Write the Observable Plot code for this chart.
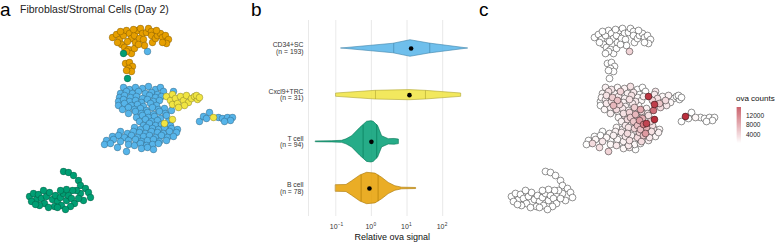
<!DOCTYPE html>
<html><head><meta charset="utf-8">
<script src="https://cdn.jsdelivr.net/npm/d3@7"></script>
<script src="https://cdn.jsdelivr.net/npm/@observablehq/plot@0.6"></script>
<style>
body{margin:0;background:#fff;font-family:"Liberation Sans",Arial,Helvetica,sans-serif;}
#wrap{position:relative;width:778px;height:243px;overflow:hidden;background:#fff;}
.abs{position:absolute;}
</style></head><body>
<div id="wrap"></div>
<script>
// ---------- Data ----------
const categories = ["CD34+SC", "Cxcl9+TRC", "T cell", "B cell"];
const cellCounts = [193, 31, 94, 78];
const catColors = ["#56B4E9", "#F0E442", "#009E73", "#E69F00"];
const catPos = [4, 3, 2, 1];

// UMAP embedding [UMAP1, UMAP2, ova counts]
const cd34Cells = [
  [-0.7,3.8,1000],[-0.1,3.6,1500],[0.5,3.8,500],[1.2,3.7,1000],[1.8,3.9,2000],[2.5,3.6,0],[3.0,3.8,0],
  [-1.0,3.2,500],[-0.4,3.4,2000],[0.2,3.2,1000],[0.8,3.4,3000],[1.5,3.2,1000],[2.1,3.3,1500],[2.7,3.1,0],[3.3,3.4,0],
  [-1.1,2.8,500],[-0.6,3.0,2000],[0.0,2.8,3500],[0.6,2.9,1500],[1.2,2.7,1000],[1.9,3.0,2000],[2.5,2.8,500],[3.1,2.9,1000],
  [-1.2,2.4,0],[-0.7,2.6,1000],[-0.1,2.4,2000],[0.5,2.5,4500],[1.1,2.3,1000],[1.7,2.6,2000],[2.3,2.4,1500],[2.9,2.5,500],
  [-1.2,2.0,0],[-0.6,2.2,1500],[0.1,2.0,5000],[0.7,2.1,3000],[1.3,1.9,1000],[2.0,2.2,1500],[2.6,2.0,500],
  [-0.8,1.6,500],[-0.2,1.8,1000],[0.4,1.6,2500],[1.0,1.7,1500],[1.6,1.5,1000],[2.2,1.8,3500],[2.8,1.6,6000],[3.4,1.7,1000],
  [-0.2,1.2,1000],[0.5,1.4,500],[1.1,1.2,2000],[1.7,1.3,3000],[2.3,1.1,5000],[2.9,1.4,2500],[3.5,1.2,1500],
  [0.6,0.8,500],[1.2,1.0,1500],[1.8,0.8,3500],[2.4,0.9,2000],[3.0,0.7,5500],[3.6,1.0,2000],
  [0.9,0.4,1000],[1.5,0.6,2500],[2.1,0.4,4000],[2.7,0.5,7000],[3.8,0.4,3000],
  [1.3,0.0,1500],[1.9,0.2,1000],[2.5,0.0,4500],[3.1,0.1,9000],[4.0,0.0,2000],
  [0.4,-0.2,500],[1.0,-0.4,1000],[1.6,-0.2,2000],[2.2,-0.3,3000],[2.8,-0.4,4500],[3.4,-0.2,5500],[4.1,-0.3,1500],[4.7,-0.4,500],
  [-1.0,-0.6,0],[-0.3,-0.8,500],[0.3,-0.6,1000],[0.9,-0.7,1500],[1.5,-0.8,2500],[2.1,-0.6,1000],[2.7,-0.7,3000],[3.3,-0.8,7000],[3.9,-0.6,2000],[4.6,-0.7,1000],
  [-1.8,-1.1,0],[-1.2,-1.0,0],[-0.6,-1.2,500],[0.1,-1.0,1000],[0.7,-1.2,500],[1.3,-1.1,1500],[1.9,-1.0,1000],[2.5,-1.2,2500],[3.1,-1.0,4000],[3.7,-1.2,1500],[4.3,-1.1,500],
  [-2.4,-1.5,0],[-1.7,-1.4,500],[-1.0,-1.6,1500],[-0.2,-1.5,0],[0.5,-1.4,500],[1.1,-1.6,1000],[1.7,-1.5,2000],[2.3,-1.4,500],[2.9,-1.6,2500],[3.6,-1.5,1000],
  [-2.6,-1.9,0],[-2.0,-1.8,2500],[-0.2,-1.9,500],[0.4,-2.0,1500],[1.0,-1.8,0],[1.6,-2.0,1500],[2.2,-1.9,500],[2.8,-1.8,500],
  [-1.3,-2.2,2000],[1.1,-2.3,500],[1.7,-2.2,1000],[2.3,-2.4,0],[-0.4,-2.6,3000],
  [4.1,1.5,10000],[4.3,3.4,1500],[1.7,7.4,3000],
  [6.9,0.4,0],[7.3,0.9,14500],[7.6,0.7,0],[7.9,1.3,0],[8.8,0.8,0],[9.2,0.7,0],[9.7,0.8,0],[10.2,0.8,0],[10.0,0.5,0],[9.4,0.4,0]
];
const cxcl9Cells = [
  [3.6,2.9,14000],[4.0,2.5,3000],[4.2,2.1,13500],[4.2,3.1,1500],[4.5,2.7,2000],[4.7,2.2,4000],[5.0,2.9,500],
  [5.3,2.5,2500],[5.6,3.0,1000],[5.8,2.3,500],[6.1,2.7,0],[6.4,2.9,0],[6.7,2.6,0],[6.6,3.0,0],[6.9,2.8,0],
  [5.4,2.0,1500],[4.8,1.8,2500],[4.2,0.6,14500],[3.4,0.2,13000],[8.3,0.8,500]
];
const bCells = [
  [-1.8,8.8,0],[-1.4,9.1,0],[-1.1,8.6,0],[-0.9,8.1,0],[-1.3,8.3,0],[-0.7,9.0,0],[-0.4,9.5,0],[-0.1,9.2,0],
  [0.1,8.7,0],[-0.3,8.4,0],[-0.6,7.8,0],[-0.2,7.6,0],[0.1,7.2,0],[0.4,7.7,0],[0.5,8.3,0],[0.4,9.0,0],
  [0.7,9.5,0],[1.0,9.7,0],[1.2,9.2,0],[0.9,8.7,0],[1.3,8.6,0],[1.6,9.3,0],[1.8,9.7,0],[2.1,9.4,0],
  [2.1,9.0,0],[2.2,8.3,0],[2.5,8.7,0],[2.7,9.0,0],[3.0,9.2,0],[3.2,8.8,0],[3.5,9.0,0],[3.8,8.6,0],
  [3.6,8.2,0],[3.2,8.3,0],[1.4,8.0,0],[0.8,8.1,0],[2.6,9.5,0],[-0.4,7.4,0],[0.3,9.6,0],[-1.0,9.4,0],
  [-0.5,6.2,0],[-0.1,6.3,0],[0.2,5.9,0],[-0.2,5.7,0],[0.1,5.4,0],[-0.4,5.5,0]
];
const tCells = [
  [-6.7,-4.6,0],[-6.2,-4.7,0],[-5.7,-5.0,0],[-5.2,-5.5,0],[-5.0,-6.0,0],[-4.5,-6.3,0],[-4.2,-6.7,0],[-4.0,-7.2,0],
  [-4.7,-7.5,0],[-5.0,-6.8,0],[-5.4,-6.5,0],[-5.8,-6.5,0],
  [-10.1,-7.1,0],[-9.7,-6.8,0],[-9.4,-7.4,0],[-9.9,-7.6,0],[-9.2,-6.9,0],[-8.9,-7.3,0],[-8.6,-7.8,0],[-9.1,-8.0,0],
  [-8.4,-7.1,0],[-8.1,-6.7,0],[-7.8,-7.4,0],[-7.5,-7.0,0],[-7.3,-7.6,0],[-7.0,-7.2,0],[-6.7,-6.8,0],[-6.9,-8.0,0],
  [-7.6,-8.1,0],[-8.2,-8.2,0],[-6.4,-7.5,0],[-6.2,-7.0,0],[-5.9,-7.3,0],[-5.6,-7.8,0],[-6.0,-8.1,0],[-5.2,-7.3,0],
  [-6.4,-6.4,0],[-7.0,-6.5,0],[-7.3,-8.2,0],[-6.5,-8.4,0],[-9.5,-7.9,0],[-8.7,-6.5,0],
  [-0.7,7.2,0],[-0.3,4.7,0]
];

// Violin density profiles: [relative ova signal, relative density]
const violinCD34 = [[0.144,0],[4.15,0.23],[12.5,0.40],[42.6,0.24],[520,0]];
const violinCxcl9 = [[0.104,0.08],[1.3,0.21],[11.7,0.245],[32.9,0.21],[331,0.08]];
const violinT = [[0.028,0.02],[0.08,0.03],[0.15,0.05],[0.2,0.12],[0.287,0.27],[0.491,0.68],[0.757,0.97],[1.0,1.0],[1.16,0.97],[1.54,0.76],[2.0,0.27],[3.06,0.13],[4.5,0.14],[5.9,0.11]];
const violinB = [[0.102,0.16],[0.2,0.17],[0.287,0.35],[0.49,0.63],[0.757,0.76],[1.3,0.72],[2.0,0.52],[3.06,0.27],[4.7,0.11],[7.3,0.04],[18,0.025]];
const q25 = [4.23, 1.3, 0.585, 0.514];
const medians = [13.0, 11.7, 1.0, 0.88];
const q75 = [43.4, 32.9, 1.41, 1.54];

const xTicks = [0.1, 1, 10, 100];
const xTickExponents = ["\u22121", "0", "1", "2"];
const countTicks = [4000, 8000, 12000];

// ---------- Build ----------
const FONT = '"Liberation Sans", Arial, Helvetica, sans-serif';
const wrap = document.getElementById("wrap");
function place(node, left, top) {
  const d = document.createElement("div");
  d.className = "abs"; d.style.left = left + "px"; d.style.top = top + "px";
  d.appendChild(node); wrap.appendChild(d); return d;
}
function label(text, left, top, css) {
  const d = document.createElement("div");
  d.className = "abs"; d.style.left = left + "px"; d.style.top = top + "px";
  d.style.whiteSpace = "nowrap";
  Object.assign(d.style, css || {});
  d.textContent = text; wrap.appendChild(d); return d;
}

const toRows = (arr, cat) => arr.map(([u1, u2, count]) => ({u1, u2, count, cat}));
const cellsA = [
  ...toRows(cd34Cells, categories[0]),
  ...toRows(cxcl9Cells, categories[1]),
  ...toRows(bCells, categories[3]),
  ...toRows(tCells, categories[2])
];

const umapX = {domain: [-13, 13], axis: null};
const umapY = {domain: [-11.8, 12.5], axis: null};

// Panel a
const plotA = Plot.plot({
  width: 260, height: 243, margin: 0,
  x: umapX, y: umapY,
  color: {domain: categories, range: catColors},
  style: {background: "transparent", overflow: "visible"},
  marks: [
    Plot.dot(cellsA, {x: "u1", y: "u2", r: 3.4, fill: "cat", stroke: "#000", strokeOpacity: 0.35, strokeWidth: 0.6})
  ]
});
place(plotA, 0, 0);

// Panel c
const cellsC = cellsA.slice().sort((a, b) => a.count - b.count);
const countColor = {type: "linear", domain: [0, 15600], range: ["#ffffff", "#b51f2e"]};
const plotC = Plot.plot({
  width: 260, height: 243, margin: 0,
  x: umapX, y: umapY,
  color: countColor,
  style: {background: "transparent", overflow: "visible"},
  marks: [
    Plot.dot(cellsC, {x: "u1", y: "u2", r: 3.4, fill: "count", stroke: "#000", strokeOpacity: 0.85, strokeWidth: 0.5})
  ]
});
place(plotC, 482, 0);

// Legend for c
const legendStops = d3.range(0, 15600, 150);
const plotLegend = Plot.plot({
  width: 45, height: 60, margin: 0,
  x: {domain: [0, 1], range: [3.7, 8.0], axis: null},
  y: {domain: [0, 15600], range: [55.3, 19], axis: null},
  color: countColor,
  style: {background: "transparent", overflow: "visible", fontFamily: FONT},
  marks: [
    Plot.rect(legendStops, {x1: 0, x2: 1, y1: d => d, y2: d => Math.min(d + 150, 15600), fill: d => d}),
    Plot.text(countTicks, {x: 1, y: d => d, text: d => String(d), dx: 4.5, textAnchor: "start", fontSize: 6.5, fill: "#222"})
  ]
});
place(plotLegend, 733, 88);
label("ova counts", 736, 94.5, {fontSize: "8px", lineHeight: "8px", color: "#111"});

// Panel b (violins)
const K = 0.443;
function densityAt(profile, v) {
  const lv = Math.log10(v);
  for (let i = 0; i < profile.length - 1; i++) {
    const a = Math.log10(profile[i][0]), b = Math.log10(profile[i + 1][0]);
    if (lv >= a && lv <= b) {
      const t = (lv - a) / (b - a);
      return profile[i][1] + t * (profile[i + 1][1] - profile[i][1]);
    }
  }
  return 0;
}
const profiles = [violinCD34, violinCxcl9, violinT, violinB];
const xMin = Math.pow(10, -1.766), xMax = Math.pow(10, 2.93);
const violinMarks = [];
categories.forEach((cat, i) => {
  const rows = profiles[i].map(([v, d]) => ({v, d, pos: catPos[i]}));
  const dark = d3.color(catColors[i]).darker(0.9).formatHex();
  violinMarks.push(Plot.areaY(rows, {
    x: "v", y1: r => r.pos - K * r.d, y2: r => r.pos + K * r.d,
    fill: catColors[i], fillOpacity: 0.85, stroke: dark, strokeWidth: 0.6
  }));
  const qs = [q25[i], q75[i]].map(v => ({v, pos: catPos[i], d: densityAt(profiles[i], v)}));
  violinMarks.push(Plot.ruleX(qs, {x: "v", y1: r => r.pos - K * r.d, y2: r => r.pos + K * r.d, stroke: dark, strokeWidth: 0.6}));
});
const medRows = medians.map((v, i) => ({v, pos: catPos[i]}));

const plotB = Plot.plot({
  width: 230, height: 243, marginLeft: 60, marginRight: 2.7, marginTop: 20, marginBottom: 27,
  x: {type: "log", domain: [xMin, xMax], axis: null},
  y: {domain: [0.4, 4.6]},
  style: {background: "transparent", overflow: "visible", fontFamily: FONT, fontSize: "7px"},
  marks: [
    Plot.gridX({ticks: xTicks, stroke: "#e3e3e3", strokeOpacity: 1, strokeWidth: 0.8}),
    Plot.ruleX([xMin], {stroke: "#e3e3e3", strokeWidth: 0.8}),
    ...violinMarks,
    Plot.dot(medRows, {x: "v", y: "pos", r: 2.3, fill: "#000"}),
    Plot.text(xTicks, {x: d => d, frameAnchor: "bottom", text: () => "10", textAnchor: "end", dx: 1.8, dy: 12, fontSize: 7, fill: "#333"}),
    Plot.text(xTicks, {x: d => d, frameAnchor: "bottom", text: (d, i) => xTickExponents[i], textAnchor: "start", dx: 2.0, dy: 9.3, fontSize: 4.8, fill: "#333"}),
    Plot.axisY({ticks: catPos, tickFormat: d => { const i = catPos.indexOf(d); return categories[i] + "\n(n = " + cellCounts[i] + ")"; },
      tickSize: 0, tickPadding: 5, fontSize: 6.8, lineHeight: 0.9, fill: "#333", label: null}),
    Plot.text(["Relative ova signal"], {frameAnchor: "bottom", dy: 23, fontSize: 9, fill: "#111"})
  ]
});
place(plotB, 248, 0);

// Panel letters and title
label("a", 0, 0, {fontSize: "19px", lineHeight: "19px"});
label("b", 251, 0, {fontSize: "19px", lineHeight: "19px"});
label("c", 479, 0, {fontSize: "19px", lineHeight: "19px"});
label("Fibroblast/Stromal Cells (Day 2)", 20, 3.5, {fontSize: "10.5px", lineHeight: "10.5px", color: "#222"});
</script></body></html>
